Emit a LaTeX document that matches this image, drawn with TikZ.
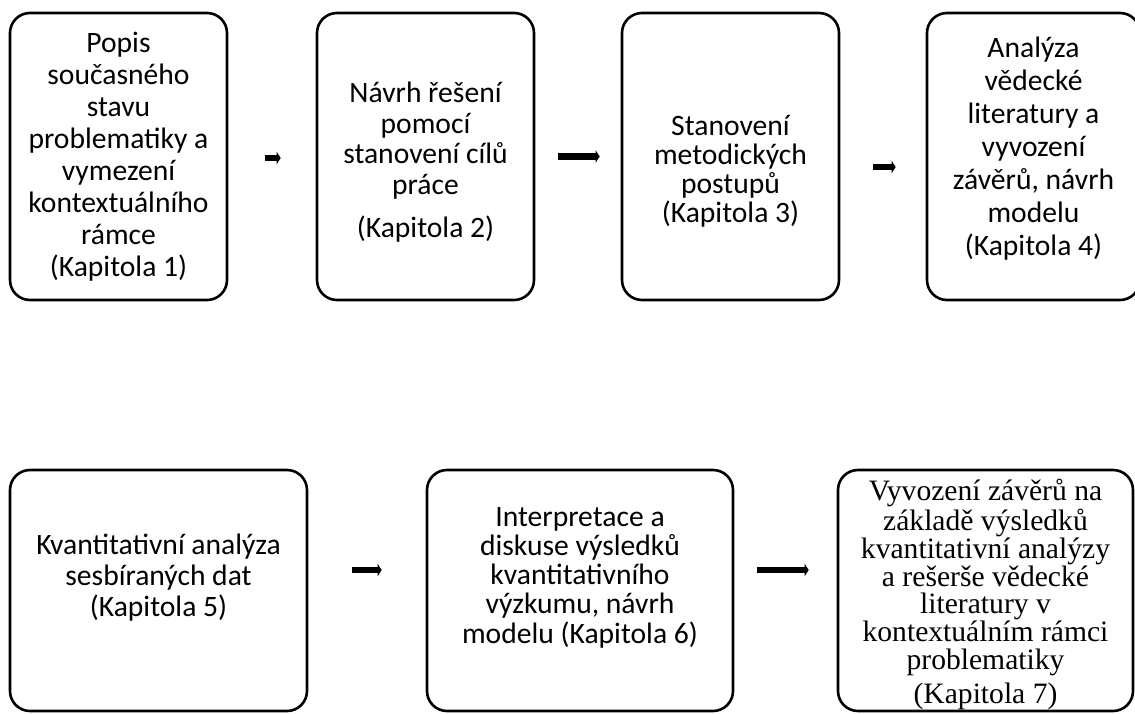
\documentclass[tikz,border=0pt]{standalone}
\usepackage{fontspec}
\setmainfont{Carlito}
\newfontfamily\timesfont{Liberation Serif}
\usetikzlibrary{arrows.meta,calc}

\begin{document}
\begin{tikzpicture}[x=0.5pt,y=-0.5pt,
        box/.style={draw, line width=1.3pt, rounded corners=10pt, inner sep=0pt},
        topbox/.style={box, minimum width=108.5pt, minimum height=143.5pt},
        txt/.style={align=center, font=\fontsize{14.8pt}{15.4pt}\selectfont},
        arr/.style={line width=3.2pt, -{Triangle[length=2pt,width=6pt]}}]
        \useasboundingbox (0,0) rectangle (1135,713);

        \node (k1) [topbox] at (118.5,156.5) {};
        \node (k2) [topbox] at (425.5,156.5) {};
        \node (k3) [topbox] at (730.5,156.5) {};
        \node (k4) [box, minimum width=106.5pt, minimum height=143.5pt] at (1033.5,156.5) {};

        \node (k5) [box, minimum width=148.5pt, minimum height=120.5pt] at (158.5,590.5) {};
        \node (k6) [box, minimum width=153pt, minimum height=120.5pt] at (580,590.5) {};
        \node (k7) [box, minimum width=147.5pt, minimum height=120.5pt] at (985.5,590.5) {};

        \node (t1) [txt, font=\fontsize{14.8pt}{16pt}\selectfont] at (k1.center) {Popis\\ současného\\ stavu\\ problematiky a\\ vymezení\\ kontextuálního\\ rámce\\ (Kapitola 1)};
        \node (t2) [txt] at ($(k2.center)+(0,5.5)$) {Návrh řešení\\ pomocí\\ stanovení cílů\\ práce\\[6pt] (Kapitola 2)};
        \node (t3) [txt, font=\fontsize{14.8pt}{14.5pt}\selectfont] at ($(k3.center)+(0,15)$) {Stanovení\\ metodických\\ postupů\\ (Kapitola 3)};
        \node (t4) [txt, font=\fontsize{14.8pt}{16.5pt}\selectfont] at ($(k4.center)+(0,-8)$) {Analýza\\ vědecké\\ literatury a\\ vyvození\\ závěrů, návrh\\ modelu\\ (Kapitola 4)};
        \node (t5) [txt] at ($(k5.center)+(0,-13)$) {Kvantitativní analýza\\ sesbíraných dat\\ (Kapitola 5)};
        \node (t6) [txt, font=\fontsize{14.8pt}{14.6pt}\selectfont] at ($(k6.center)+(0,-13)$) {Interpretace a\\ diskuse výsledků\\ kvantitativního\\ výzkumu, návrh\\ modelu (Kapitola 6)};
        \node (t7) [txt, font=\timesfont\fontsize{14.8pt}{13.9pt}\selectfont] at ($(k7.center)+(0,4)$) {Vyvození závěrů na\\ základě výsledků\\ kvantitativní analýzy\\ a rešerše vědecké\\ literatury v\\ kontextuálním rámci\\ problematiky\\[3pt] (Kapitola 7)};

        \draw[arr, shorten <=18.5pt, shorten >=17.5pt] ($(k1.east)+(0,1.5)$) -- ($(k2.west)+(0,1.5)$);
        \draw[arr, shorten <=11.5pt, shorten >=10.5pt] (k2.east) -- (k3.west);
        \draw[arr, shorten <=16.5pt, shorten >=15pt] ($(k3.east)+(0,10.5)$) -- ($(k4.west)+(0,10.5)$);
        \draw[arr, shorten <=22pt, shorten >=22pt] ($(k5.east)+(0,-20.5)$) -- ($(k6.west)+(0,-20.5)$);
        \draw[arr, shorten <=11.5pt, shorten >=14pt] ($(k6.east)+(0,-20.5)$) -- ($(k7.west)+(0,-20.5)$);
\end{tikzpicture}
\end{document}
